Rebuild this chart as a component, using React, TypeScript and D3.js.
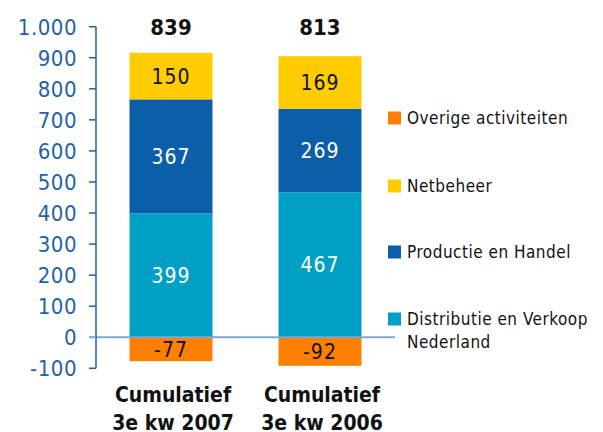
import React from "react";
import * as d3 from "d3";

const categories = ["Cumulatief\n3e kw 2007", "Cumulatief\n3e kw 2006"];
const totals = [839, 813];
const distributie = [399, 467];
const productie = [367, 269];
const netbeheer = [150, 169];
const overige = [-77, -92];
const yTicks = [-100, 0, 100, 200, 300, 400, 500, 600, 700, 800, 900, 1000];
const legendItems = ["Overige activiteiten", "Netbeheer", "Productie en Handel", "Distributie en Verkoop\nNederland"];

const C_OR = "#FF8000";
const C_YE = "#FFCC00";
const C_DB = "#0B5EA8";
const C_LB = "#00A0C6";
const AXIS = "#1F62A8";
const ZERO = "#7BA9D2";
const FONT = "'DejaVu Sans Condensed', 'DejaVu Sans', sans-serif";

export default function App() {
  const W = 603, H = 432;
  const y = d3.scaleLinear().domain([-100, 1000]).range([368.3, 26.7]);
  const x = d3.scaleBand<string>().domain(categories).range([96, 395]).paddingInner(0.443).paddingOuter(0.225);
  const fmt = (v: number) => (v >= 1000 ? d3.format(",")(v).replace(",", ".") : String(v));

  const series = [
    { vals: distributie, color: C_LB, text: "#fff" },
    { vals: productie, color: C_DB, text: "#fff" },
    { vals: netbeheer, color: C_YE, text: "#111" },
  ];

  const bars: any[] = [];
  categories.forEach((c, i) => {
    let base = 0;
    series.forEach((s, k) => {
      const v = s.vals[i];
      bars.push({ key: `${c}-${k}`, x: x(c)!, y0: base, y1: base + v, color: s.color, text: s.text, v });
      base += v;
    });
    bars.push({ key: `${c}-o`, x: x(c)!, y0: overige[i], y1: 0, color: C_OR, text: "#111", v: overige[i] });
  });

  const legendY = [118, 186, 252, 319];
  const legendColors = [C_OR, C_YE, C_DB, C_LB];

  return (
    <svg width={W} height={H} style={{ position: "absolute", left: 0, top: 0 }} fontFamily={FONT}>
      {bars.map((b) => (
        <g key={b.key}>
          <rect x={b.x} y={y(Math.max(b.y0, b.y1))} width={x.bandwidth()} height={Math.abs(y(b.y0) - y(b.y1))} fill={b.color} />
          <text x={b.x + x.bandwidth() / 2} y={(y(b.y0) + y(b.y1)) / 2} dy="0.36em" textAnchor="middle" fontSize={21} fill={b.text} letterSpacing={1}>
            {b.v}
          </text>
        </g>
      ))}
      <line x1={89} x2={395} y1={y(0)} y2={y(0)} stroke={ZERO} strokeWidth={2} />
      <line x1={96} x2={96} y1={y(1000)} y2={y(-100)} stroke={AXIS} strokeWidth={1.5} />
      {yTicks.map((t) => (
        <g key={t}>
          <line x1={89} x2={96} y1={y(t)} y2={y(t)} stroke={t === 0 ? ZERO : AXIS} strokeWidth={1.5} />
          <text x={77} y={y(t)} dy="0.36em" textAnchor="end" fontSize={22} fill={AXIS} letterSpacing={0.5}>
            {fmt(t)}
          </text>
        </g>
      ))}
      {categories.map((c, i) => (
        <g key={c}>
          <text x={x(c)! + x.bandwidth() / 2} y={35} textAnchor="middle" fontSize={22} fontWeight="bold" fill="#111">
            {totals[i]}
          </text>
          {c.split("\n").map((ln, j) => (
            <text key={j} x={x(c)! + x.bandwidth() / 2 + 2} y={402 + j * 28} textAnchor="middle" fontSize={21} fontWeight="bold" fill="#111">
              {ln}
            </text>
          ))}
        </g>
      ))}
      {legendItems.map((l, i) => (
        <g key={l}>
          <rect x={388} y={legendY[i] - 6.5} width={13} height={13} fill={legendColors[i]} />
          {l.split("\n").map((ln, j) => (
            <text key={j} x={407} y={legendY[i] + j * 23} dy="0.36em" fontSize={17} fill="#111" letterSpacing={0.5}>
              {ln}
            </text>
          ))}
        </g>
      ))}
    </svg>
  );
}
